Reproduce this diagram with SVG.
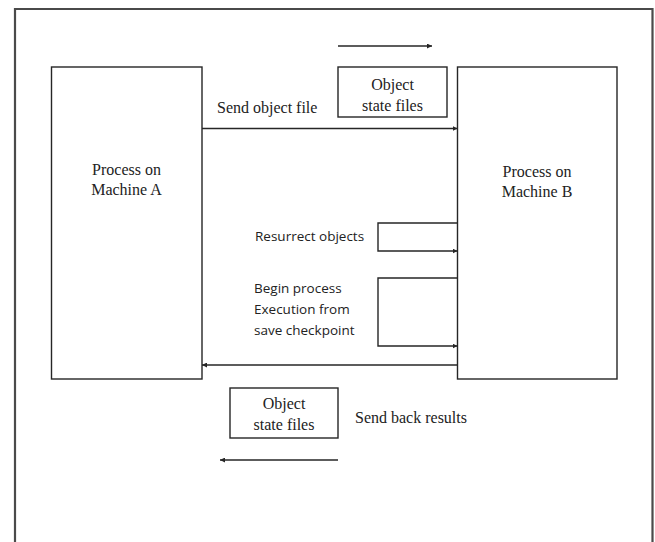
<svg xmlns="http://www.w3.org/2000/svg" width="655" height="542" viewBox="0 0 655 542">
  <style>
    .frame { fill: none; stroke: #4a4a4a; stroke-width: 2.2; }
    .box { fill: #ffffff; stroke: #262626; stroke-width: 1.4; }
    .wire { fill: none; stroke: #262626; stroke-width: 1.4; }
    .serif { font-family: "Liberation Serif", "Times New Roman", serif; font-size: 16px; fill: #222222; }
    .sans { font-family: "Open Sans", "Liberation Sans", Arial, sans-serif; font-size: 13.5px; fill: #222222; }
    .mid { text-anchor: middle; }
  </style>
  <defs>
    <marker id="head" viewBox="0 0 10 10" refX="10" refY="5" markerWidth="5" markerHeight="5" markerUnits="userSpaceOnUse" orient="auto">
      <path d="M0,0 L10,5 L0,10 z" fill="#262626"/>
    </marker>
  </defs>

  <rect width="655" height="542" fill="#ffffff"/>

  <!-- outer frame, open at the bottom -->
  <path class="frame" d="M15,545 L15,9 L652.5,9 L652.5,545"/>

  <g id="machine-a">
    <rect class="box" x="51.5" y="67" width="150.5" height="312"/>
    <text class="serif mid" x="126.5" y="175">Process on</text>
    <text class="serif mid" x="126.5" y="195">Machine A</text>
  </g>

  <g id="machine-b">
    <rect class="box" x="457.5" y="67" width="159.5" height="312"/>
    <text class="serif mid" x="537" y="177">Process on</text>
    <text class="serif mid" x="537" y="197">Machine B</text>
  </g>

  <g id="state-files-out">
    <rect class="box" x="338" y="67" width="109" height="50"/>
    <text class="serif mid" x="392.5" y="90">Object</text>
    <text class="serif mid" x="392.5" y="111">state files</text>
  </g>

  <g id="state-files-back">
    <rect class="box" x="230" y="388" width="108" height="50"/>
    <text class="serif mid" x="284" y="409">Object</text>
    <text class="serif mid" x="284" y="430">state files</text>
  </g>

  <g id="labels">
    <text class="serif" x="217" y="113">Send object file</text>
    <text class="serif" x="355" y="423">Send back results</text>
    <text class="sans" x="255" y="241">Resurrect objects</text>
    <text class="sans" x="254" y="293">Begin process</text>
    <text class="sans" x="254" y="314">Execution from</text>
    <text class="sans" x="254" y="335">save checkpoint</text>
  </g>

  <g id="connectors">
    <!-- direction hint above the outgoing files -->
    <line class="wire" x1="338" y1="46" x2="432" y2="46" marker-end="url(#head)"/>
    <!-- send object file A -> B -->
    <line class="wire" x1="202" y1="128.5" x2="457.5" y2="128.5" marker-end="url(#head)"/>
    <!-- resurrect objects loop -->
    <path class="wire" d="M457.5,223 L378,223 L378,251 L457.5,251" marker-end="url(#head)"/>
    <!-- resume from checkpoint loop -->
    <path class="wire" d="M457.5,278 L378,278 L378,346 L457.5,346" marker-end="url(#head)"/>
    <!-- send back results B -> A -->
    <line class="wire" x1="457.5" y1="365" x2="202" y2="365" marker-end="url(#head)"/>
    <!-- direction hint below the returned files -->
    <line class="wire" x1="338" y1="460" x2="220" y2="460" marker-end="url(#head)"/>
  </g>
</svg>
